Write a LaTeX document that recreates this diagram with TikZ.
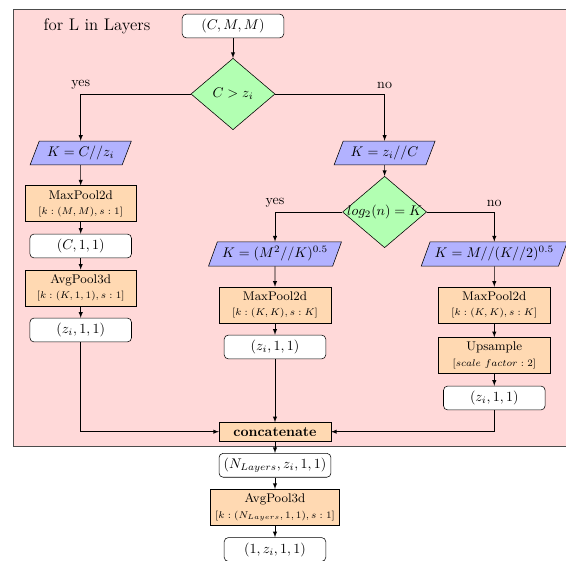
\documentclass[tikz,border=0pt]{standalone}
\usepackage{tikz}
\usetikzlibrary{shapes,arrows}
\usepackage{amsmath}

\begin{document}
\begin{tikzpicture}[x=0.714pt,y=-0.714pt,
startstop/.style={rectangle, rounded corners=3pt, minimum width=2.55cm, minimum height=0.6cm, draw=black, fill=white},
io/.style={trapezium, trapezium left angle=70, trapezium right angle=110, trapezium stretches=true, minimum width=2.55cm, minimum height=0.6cm, draw=black, fill=blue!30},
process/.style={rectangle, minimum width=2.8cm, align=center, draw=black, fill=orange!30},
decision/.style={diamond, minimum width=60pt, minimum height=51pt, inner sep=0pt, draw=black, fill=green!30},
arrow/.style={thin,->,>=latex}]
\useasboundingbox (0,0) rectangle (566,561);
\filldraw[fill=red!15, draw=black!70, semithick] (13,9) rectangle (600,446);
\node[font=\large] (title) at (97,26) {for L in Layers};

\node[startstop] (start) at (233,26) {$(C,M,M)$};
\node[decision] (dec1) at (233,94) {\makebox[0pt]{$C>z_i$}};
\node[io] (io1) at (80.7,153) {$K=C//z_i$};
\node[io] (io2) at (384.6,153) {$K=z_i//C$};
\node[process] (mp1) at (80.7,203.7) {\small MaxPool2d\\[-1pt]\scriptsize$[k:(M,M),s:1]$};
\node[startstop] (out1) at (80.7,246) {$(C,1,1)$};
\node[process] (avg1) at (80.7,288) {\small AvgPool3d\\[-1pt]\scriptsize$[k:(K,1,1),s:1]$};
\node[startstop] (out2) at (80.7,330) {$(z_i,1,1)$};
\node[decision] (dec2) at (384.6,212) {\makebox[0pt]{$log_2(n)=K$}};
\node[io] (io3) at (275,254) {$K=(M^2//K)^{0.5}$};
\node[io] (io4) at (494.3,254) {$K=M//(K//2)^{0.5}$};
\node[process] (mp2) at (275,305) {\small MaxPool2d\\[-1pt]\scriptsize$[k:(K,K),s:K]$};
\node[startstop] (out3) at (275,347) {$(z_i,1,1)$};
\node[process] (mp3) at (494.3,305) {\small MaxPool2d\\[-1pt]\scriptsize$[k:(K,K),s:K]$};
\node[process] (up) at (494.3,355.5) {\small Upsample\\[-1pt]\scriptsize$[scale\ factor:2]$};
\node[startstop] (out4) at (494.3,398) {$(z_i,1,1)$};
\node[process] (cat) at (275,431.7) {\textbf{concatenate}};
\node[startstop] (out5) at (275,465.3) {$(N_{Layers},z_i,1,1)$};
\node[process] (avg2) at (275,507.5) {\small AvgPool3d\\[-1pt]\scriptsize$[k:(N_{Layers},1,1),s:1]$};
\node[startstop] (out6) at (275,549.5) {$(1,z_i,1,1)$};

\draw[arrow] (start) -- (dec1);
\draw[arrow] (dec1.west) -| node[above,pos=0.5]{yes} (io1.north);
\draw[arrow] (dec1.east) -| node[above,pos=0.5]{no} (io2.north);
\draw[arrow] (io1) -- (mp1);
\draw[arrow] (mp1) -- (out1);
\draw[arrow] (out1) -- (avg1);
\draw[arrow] (avg1) -- (out2);
\draw[arrow] (out2.south) |- (cat.west);
\draw[arrow] (io2) -- (dec2);
\draw[arrow] (dec2.west) -| node[above,pos=0.5]{yes} (io3.north);
\draw[arrow] (dec2.east) -| node[above,pos=0.5]{no} (io4.north);
\draw[arrow] (io3) -- (mp2);
\draw[arrow] (mp2) -- (out3);
\draw[arrow] (out3) -- (cat);
\draw[arrow] (io4) -- (mp3);
\draw[arrow] (mp3) -- (up);
\draw[arrow] (up) -- (out4);
\draw[arrow] (out4.south) |- (cat.east);
\draw[arrow] (cat) -- (out5);
\draw[arrow] (out5) -- (avg2);
\draw[arrow] (avg2) -- (out6);
\end{tikzpicture}
\end{document}
